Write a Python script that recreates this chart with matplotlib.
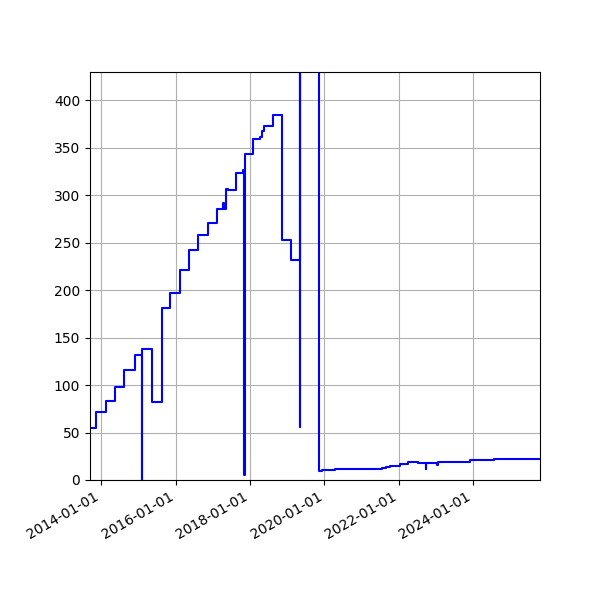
import matplotlib
matplotlib.use("Agg")
import matplotlib.pyplot as plt
import matplotlib.dates as mdates
import pandas as pd

# breakpoints of the series (value holds until the next date)
dates = [
    "2013-09-13", "2013-11-12", "2014-02-15", "2014-05-17", "2014-08-11",
    "2014-11-29", "2015-02-03", "2015-02-06", "2015-05-12", "2015-08-20",
    "2015-11-10", "2016-02-11", "2016-05-12", "2016-08-11", "2016-11-11",
    "2017-02-11", "2017-04-12", "2017-04-16", "2017-05-10", "2017-06-01",
    "2017-08-17", "2017-10-28", "2017-11-05", "2017-11-08", "2018-02-03",
    "2018-04-08", "2018-05-01", "2018-05-22", "2018-08-12", "2018-11-08",
    "2019-02-07", "2019-05-04", "2019-05-06", "2019-05-08", "2019-11-12",
    "2019-12-10", "2020-04-16", "2021-07-17", "2021-08-25", "2021-10-09",
    "2022-01-13", "2022-04-05", "2022-07-05", "2022-09-22", "2022-09-28",
    "2023-01-08", "2023-01-20", "2023-03-08", "2023-12-02", "2024-07-23",
    "2025-10-18",
]
values = [
    55, 72, 83, 98, 116,
    132, 0, 138, 82, 181,
    197, 221, 242, 258, 271,
    286, 292, 286, 307, 306,
    324, 327, 5, 344, 359,
    362, 368, 373, 385, 253,
    232, 1000, 56, 1000, 10,
    11, 12, 13, 14, 15,
    17, 19, 18, 12, 18,
    16, 19, 19, 21, 22,
    22,
]

x = pd.to_datetime(dates)

fig, ax = plt.subplots(figsize=(6, 6), dpi=100)
ax.plot(x, values, color="blue", drawstyle="steps-post")
ax.set_xlim(x[0], x[-1])
ax.set_ylim(0, 430)
ax.xaxis.set_major_locator(mdates.YearLocator(2))
ax.xaxis.set_major_formatter(mdates.DateFormatter("%Y-%m-%d"))
ax.grid(True)
fig.autofmt_xdate()
plt.subplots_adjust(left=0.15, right=0.9, top=0.88, bottom=0.2)
plt.savefig("out.png")
